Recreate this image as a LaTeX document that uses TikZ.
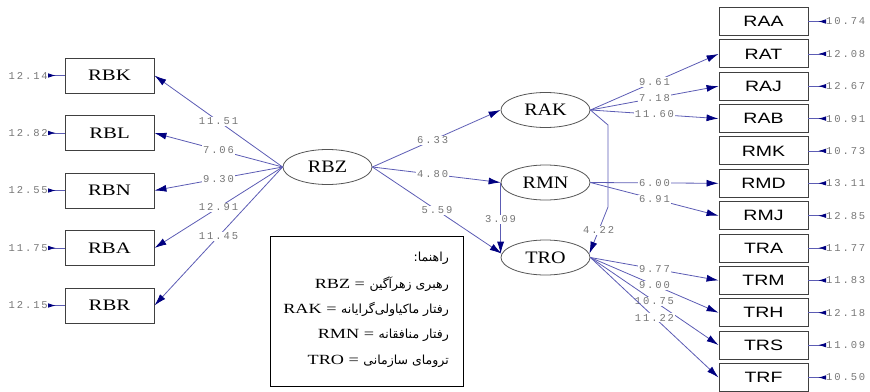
\documentclass[tikz,border=0pt]{standalone}
\usepackage{fontspec}
\setmainfont{Liberation Serif}
\setsansfont{Liberation Sans}
\newfontfamily\numfont[LetterSpace=18]{Liberation Mono}
\newfontfamily\boxserif[FakeStretch=1.3]{Liberation Serif}
\newfontfamily\boxsans[FakeStretch=1.3]{Liberation Sans}
\newfontfamily\ellserif[FakeStretch=1.15]{Liberation Serif}
\newfontfamily\arabicfont[Script=Arabic]{DejaVu Sans}
\TeXXeTstate=1
\usetikzlibrary{arrows.meta,shapes.geometric}
\definecolor{pathblue}{HTML}{5C5CB4}
\definecolor{tipnavy}{HTML}{000080}
\definecolor{numgray}{HTML}{777777}
\definecolor{boxgray}{HTML}{404040}
\definecolor{ellgray}{HTML}{555555}
\begin{document}
\begin{tikzpicture}[x=1pt,y=-1pt,
  lbox/.style={draw=boxgray, line width=0.9pt, minimum width=89pt, minimum height=35pt, inner sep=0pt, font=\boxserif\fontsize{16}{16}\selectfont},
  rbox/.style={draw=boxgray, line width=0.9pt, minimum width=89pt, minimum height=28pt, inner sep=0pt, font=\boxsans\fontsize{15}{15}\selectfont},
  latent/.style={ellipse, draw=ellgray, line width=0.8pt, minimum width=89pt, minimum height=35pt, inner sep=0pt, font=\ellserif\fontsize{17.5}{17.5}\selectfont},
  conn/.style={draw=pathblue, line width=0.8pt, -{Latex[length=12pt,width=7pt,color=tipnavy]}},
  errarr/.style={draw=pathblue, line width=0.8pt, -{Latex[reversed,length=8pt,width=4.5pt,color=tipnavy]}},
  num/.style={font=\numfont\fontsize{10.5}{10.5}\selectfont, text=numgray, fill=white, inner sep=1pt},
  errnum/.style={font=\numfont\fontsize{10.5}{10.5}\selectfont, text=numgray, inner sep=0pt},
  legtext/.style={anchor=east, inner sep=0pt, font=\boxserif\fontsize{14}{14}\selectfont},
  persian/.style={}
]
\useasboundingbox (0,0) rectangle (870,391);

% left indicators
\node[lbox] (RBK) at (109.5,75.5) {RBK};
\node[lbox] (RBL) at (109.5,133) {RBL};
\node[lbox] (RBN) at (109.5,190.5) {RBN};
\node[lbox] (RBA) at (109.5,248) {RBA};
\node[lbox] (RBR) at (109.5,305.5) {RBR};

% latent variables
\node[latent] (RBZ) at (327.5,167) {RBZ};
\node[latent] (RAK) at (545.5,110) {RAK};
\node[latent] (RMN) at (545.5,182.5) {RMN};
\node[latent] (TRO) at (545.5,257.5) {TRO};

% right indicators
\node[rbox] (RAA) at (763.5,21.5) {RAA};
\node[rbox] (RAT) at (763.5,53.9) {RAT};
\node[rbox] (RAJ) at (763.5,86.2) {RAJ};
\node[rbox] (RAB) at (763.5,118.6) {RAB};
\node[rbox] (RMK) at (763.5,150.9) {RMK};
\node[rbox] (RMD) at (763.5,183.3) {RMD};
\node[rbox] (RMJ) at (763.5,215.7) {RMJ};
\node[rbox] (TRA) at (763.5,248) {TRA};
\node[rbox] (TRM) at (763.5,280.4) {TRM};
\node[rbox] (TRH) at (763.5,312.7) {TRH};
\node[rbox] (TRS) at (763.5,345.1) {TRS};
\node[rbox] (TRF) at (763.5,377.5) {TRF};

% error terms left
\node[errnum, anchor=east] (eRBK) at (48,75.5) {12.14};
\node[errnum, anchor=east] (eRBL) at (48,133) {12.82};
\node[errnum, anchor=east] (eRBN) at (48,190.5) {12.55};
\node[errnum, anchor=east] (eRBA) at (48,248) {11.75};
\node[errnum, anchor=east] (eRBR) at (48,305.5) {12.15};
\foreach \b in {RBK,RBL,RBN,RBA,RBR}
  \draw[errarr] (\b.west) -- (e\b.east);

% error terms right
\node[errnum, anchor=west] (eRAA) at (826,21.5) {10.74};
\node[errnum, anchor=west] (eRAT) at (826,53.9) {12.08};
\node[errnum, anchor=west] (eRAJ) at (826,86.2) {12.67};
\node[errnum, anchor=west] (eRAB) at (826,118.6) {10.91};
\node[errnum, anchor=west] (eRMK) at (826,150.9) {10.73};
\node[errnum, anchor=west] (eRMD) at (826,183.3) {13.11};
\node[errnum, anchor=west] (eRMJ) at (826,215.7) {12.85};
\node[errnum, anchor=west] (eTRA) at (826,248) {11.77};
\node[errnum, anchor=west] (eTRM) at (826,280.4) {11.83};
\node[errnum, anchor=west] (eTRH) at (826,312.7) {12.18};
\node[errnum, anchor=west] (eTRS) at (826,345.1) {11.09};
\node[errnum, anchor=west] (eTRF) at (826,377.5) {10.50};
\foreach \b in {RAA,RAT,RAJ,RAB,RMK,RMD,RMJ,TRA,TRM,TRH,TRS,TRF}
  \draw[errarr] (\b.east) -- (e\b.west);

% RBZ to its indicators
\draw[conn] (RBZ.west) -- node[num] {11.51} (RBK.east);
\draw[conn] (RBZ.west) -- node[num] {7.06} (RBL.east);
\draw[conn] (RBZ.west) -- node[num] {9.30} (RBN.east);
\draw[conn] (RBZ.west) -- node[num] {12.91} (RBA.east);
\draw[conn] (RBZ.west) -- node[num] {11.45} (RBR.east);

% structural paths
\draw[conn] (RBZ.east) -- node[num, pos=.47] {6.33} (RAK.west);
\draw[conn] (RBZ.east) -- node[num, pos=.47] {4.80} (RMN.west);
\draw[conn] (RBZ.east) -- node[num, pos=.5] {5.59} (TRO.175);
\draw[conn] (RMN.west) -- node[num, pos=.52] {3.09} (RMN.west |- TRO.175);
\coordinate (k1) at (608,125);
\coordinate (k2) at (608,207);
\draw[conn] (RAK.east) -- (k1) -- (k2) -- node[num] {4.22} (TRO.5);

% RAK indicators
\draw[conn] (RAK.east) -- node[num] {9.61} (RAT.west);
\draw[conn] (RAK.east) -- node[num] {7.18} (RAJ.west);
\draw[conn] (RAK.east) -- node[num] {11.60} (RAB.west);

% RMN indicators
\draw[conn] (RMN.east) -- node[num] {6.00} (RMD.west);
\draw[conn] (RMN.east) -- node[num] {6.91} (RMJ.west);

% TRO indicators
\draw[conn] (TRO.east) -- node[num] {9.77} (TRM.west);
\draw[conn] (TRO.east) -- node[num] {9.00} (TRH.west);
\draw[conn] (TRO.east) -- node[num] {10.75} (TRS.west);
\draw[conn] (TRO.east) -- node[num] {11.22} (TRF.west);

% legend
\node[draw=black, line width=0.9pt, minimum width=193pt, minimum height=150pt, inner sep=0pt] (legend) at (366.5,311) {};
\node[legtext] (leg0) at (449,258) {\arabicfont\fontsize{12.5}{12.5}\selectfont\beginR راهنما:\endR};
\node[legtext] (leg1) at (449,284) {RBZ = {\arabicfont\fontsize{12.5}{12.5}\selectfont\beginR رهبری زهرآگین\endR}};
\node[legtext] (leg2) at (449,309.5) {RAK = {\arabicfont\fontsize{12.5}{12.5}\selectfont\beginR رفتار ماکیاولی‌گرایانه\endR}};
\node[legtext] (leg3) at (449,335) {RMN = {\arabicfont\fontsize{12.5}{12.5}\selectfont\beginR رفتار منافقانه\endR}};
\node[legtext] (leg4) at (449,361) {TRO = {\arabicfont\fontsize{12.5}{12.5}\selectfont\beginR ترومای سازمانی\endR}};
\end{tikzpicture}
\end{document}
